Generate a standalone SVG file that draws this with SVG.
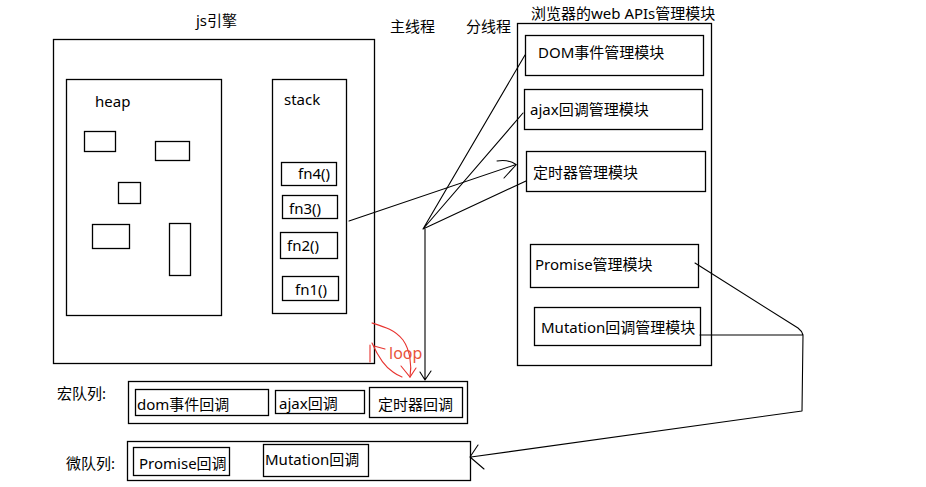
<svg xmlns="http://www.w3.org/2000/svg" width="926" height="487" viewBox="0 0 926 487">
<style>
.b{fill:none;stroke:#000;stroke-width:1.3}
.t{font-family:"Noto Sans","Noto Sans CJK SC",sans-serif;font-size:15px;fill:#000}
.c{fill:none;stroke:#000;stroke-width:1.1;stroke-linecap:round;stroke-linejoin:round}
.r{fill:none;stroke:#e8332f;stroke-width:1.1;stroke-linecap:round}
</style>
<rect width="926" height="487" fill="#fff"/>
<g id="js-engine">
<rect class="b" x="53.5" y="39.5" width="321" height="324"/>
<text class="t" x="196" y="26">js引擎</text>
</g>
<g id="heap">
<rect class="b" x="66.5" y="79.5" width="155" height="236"/>
<text class="t" x="95" y="107">heap</text>
<rect class="b" x="84.5" y="131.5" width="31" height="20"/>
<rect class="b" x="155.5" y="141.5" width="34" height="19"/>
<rect class="b" x="118.5" y="182.5" width="22" height="21"/>
<rect class="b" x="92.5" y="224.5" width="37" height="24"/>
<rect class="b" x="169.5" y="223.5" width="21" height="52"/>
</g>
<g id="stack">
<rect class="b" x="272.5" y="79.5" width="74" height="234"/>
<text class="t" x="284" y="105">stack</text>
</g>
<g id="fn4"><rect class="b" x="281.5" y="162.5" width="55" height="23"/><text class="t" x="298" y="179">fn4()</text></g>
<g id="fn3"><rect class="b" x="282.5" y="195.5" width="55" height="23"/><text class="t" x="289" y="214">fn3()</text></g>
<g id="fn2"><rect class="b" x="280.5" y="232.5" width="57" height="26"/><text class="t" x="287" y="251">fn2()</text></g>
<g id="fn1"><rect class="b" x="282.5" y="276.5" width="56" height="24"/><text class="t" x="295" y="295">fn1()</text></g>
<g id="labels">
<text class="t" x="390" y="32">主线程</text>
<text class="t" x="466" y="32">分线程</text>
</g>
<g id="web-apis">
<rect class="b" x="517.5" y="23.5" width="194" height="342"/>
<text class="t" x="531" y="19">浏览器的web APIs管理模块</text>
</g>
<g id="dom-module"><rect class="b" x="525.5" y="35.5" width="178" height="40"/><text class="t" x="538" y="58">DOM事件管理模块</text></g>
<g id="ajax-module"><rect class="b" x="524.5" y="89.5" width="178" height="40"/><text class="t" x="530" y="115">ajax回调管理模块</text></g>
<g id="timer-module"><rect class="b" x="526.5" y="151.5" width="179" height="40"/><text class="t" x="533" y="178">定时器管理模块</text></g>
<g id="promise-module"><rect class="b" x="530.5" y="244.5" width="168" height="43"/><text class="t" x="535" y="270">Promise管理模块</text></g>
<g id="mutation-module"><rect class="b" x="534.5" y="307.5" width="166" height="38"/><text class="t" x="541" y="333">Mutation回调管理模块</text></g>
<g id="macro-queue">
<text class="t" x="57" y="399">宏队列:</text>
<rect class="b" x="128.5" y="381.5" width="339" height="42"/>
<rect class="b" x="135.5" y="389.5" width="133" height="26"/><text class="t" x="137" y="410">dom事件回调</text>
<rect class="b" x="275.5" y="390.5" width="89" height="23"/><text class="t" x="279" y="409">ajax回调</text>
<rect class="b" x="369.5" y="387.5" width="93" height="30"/><text class="t" x="378" y="410">定时器回调</text>
</g>
<g id="micro-queue">
<text class="t" x="66" y="469">微队列:</text>
<rect class="b" x="127.5" y="441.5" width="343" height="39"/>
<rect class="b" x="133.5" y="447.5" width="96" height="28"/><text class="t" x="139" y="469">Promise回调</text>
<rect class="b" x="263.5" y="444.5" width="105" height="32"/><text class="t" x="265" y="465">Mutation回调</text>
</g>
<g id="connectors">
<path class="c" d="M349 221 L516 164.5"/>
<path class="c" d="M497 161 Q508 159 516 164.5 M504 178 L516 165"/>
<path class="c" d="M423 229 L525 55 M423 229 L523 113 M423 229 L526 181"/>
<path class="c" d="M425 229 L425 380 M420 372 L425 380 L431 371"/>
<path class="c" d="M695 263 L798 328 Q802 331 803 335 M700 335 L803 335 L802 411 L471 457 M478 445 L470 457 L484 469"/>
</g>
<g id="loop">
<path class="r" d="M372 323 C385 327 395 330 403 340 C410 350 412 365 410 377"/>
<path class="r" d="M372 343 C376 352 382 365 393 372 C397 375 400 376 402 377"/>
<path class="r" d="M370 345 L370 362 M374 346 L385 349 M401 366 L410 377 L416 368"/>
<text x="389" y="359" style="font-family:'Noto Sans',sans-serif;font-size:16px;fill:#e8553a">loop</text>
</g>
</svg>
